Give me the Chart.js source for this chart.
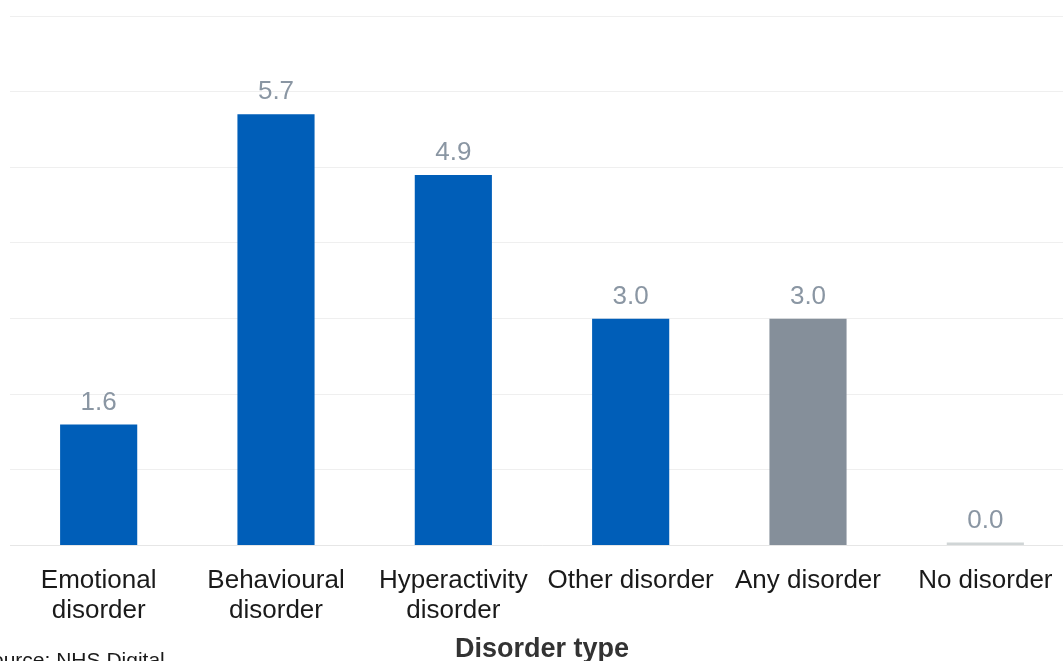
<!DOCTYPE html>
<html>
<head>
<meta charset="utf-8">
<script src="https://cdn.jsdelivr.net/npm/chart.js@4/dist/chart.umd.min.js"></script>
<style>
  html, body { margin: 0; padding: 0; background: #ffffff; overflow: hidden; }
  #wrap { position: absolute; left: 0; top: 0; width: 1080px; height: 666px; }
</style>
</head>
<body>
<div id="wrap"><canvas id="c" width="1080" height="666"></canvas></div>
<script>
const categories = [
  ['Emotional', 'disorder'],
  ['Behavioural', 'disorder'],
  ['Hyperactivity', 'disorder'],
  'Other disorder',
  'Any disorder',
  'No disorder'
];
const values = [1.6, 5.7, 4.9, 3.0, 3.0, 0.0];
const barColors = ['#005EB8', '#005EB8', '#005EB8', '#005EB8', '#858F9A', '#D0D5D6'];
const xTitle = 'Disorder type';
const sourceText = 'Source: NHS Digital';

const FONT = '"Liberation Sans", Arial, sans-serif';

const labelPlugin = {
  id: 'valueLabels',
  afterDatasetsDraw(chart) {
    const ctx = chart.ctx;
    const meta = chart.getDatasetMeta(0);
    ctx.save();
    ctx.font = '26px ' + FONT;
    ctx.fillStyle = '#8A96A3';
    ctx.textAlign = 'center';
    ctx.textBaseline = 'alphabetic';
    meta.data.forEach((bar, i) => {
      ctx.fillText(values[i].toFixed(1), bar.x, bar.y - 15);
    });
    ctx.restore();
  }
};

const sourcePlugin = {
  id: 'source',
  afterDraw(chart) {
    const ctx = chart.ctx;
    ctx.save();
    ctx.font = '21px ' + FONT;
    ctx.fillStyle = '#1a1a1a';
    ctx.textAlign = 'left';
    ctx.textBaseline = 'alphabetic';
    ctx.fillText(sourceText, -22, 667);
    ctx.restore();
  }
};

new Chart(document.getElementById('c'), {
  type: 'bar',
  data: {
    labels: categories,
    datasets: [{
      data: values,
      backgroundColor: barColors,
      borderWidth: 0,
      barPercentage: 0.435,
      categoryPercentage: 1.0,
      minBarLength: 3
    }]
  },
  options: {
    responsive: false,
    animation: false,
    devicePixelRatio: 1,
    layout: { padding: { left: 10, right: 6, top: 16, bottom: 0 } },
    plugins: {
      legend: { display: false },
      tooltip: { enabled: false }
    },
    scales: {
      y: {
        min: 0,
        max: 7,
        ticks: { display: false, stepSize: 1 },
        border: { display: false },
        grid: { color: '#EFEFEF', lineWidth: 1, drawTicks: false, tickLength: 0 }
      },
      x: {
        grid: { display: false, drawTicks: false },
        border: { display: true, color: '#E6E6E6', width: 1 },
        ticks: {
          color: '#1a1a1a',
          font: { family: FONT, size: 26, lineHeight: 30 / 26 },
          padding: 20,
          maxRotation: 0,
          autoSkip: false
        },
        title: {
          display: true,
          text: xTitle,
          color: '#333333',
          font: { family: FONT, size: 27, weight: 'bold', lineHeight: 1.2 },
          padding: { top: -12, bottom: 0 }
        }
      }
    }
  },
  plugins: [labelPlugin, sourcePlugin]
});
</script>
</body>
</html>
